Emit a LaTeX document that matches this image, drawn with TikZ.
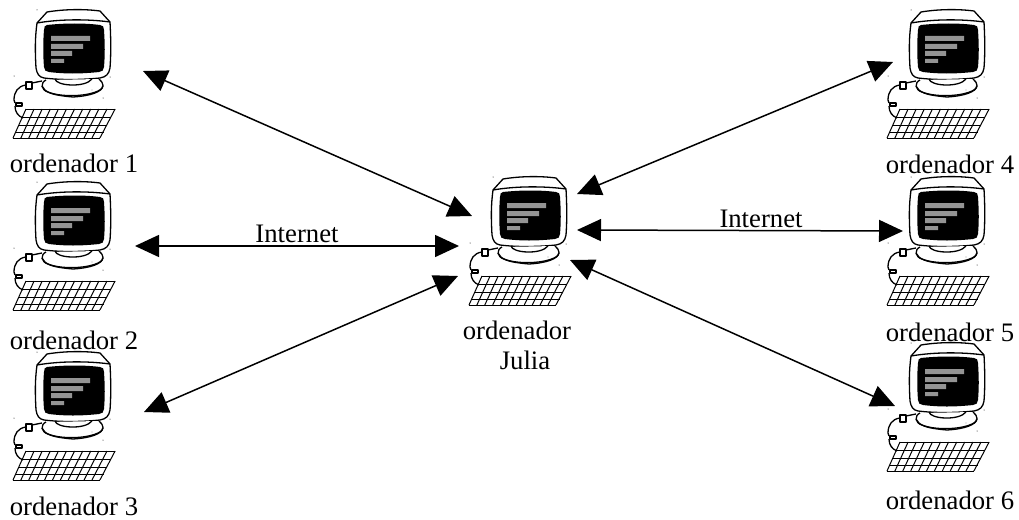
\documentclass[tikz,border=0pt]{standalone}
\usepackage{fontspec}
\setmainfont{Liberation Serif}
\usetikzlibrary{arrows.meta}
\tikzset{
  px/.style={x=1pt,y=-1pt},
  pcline/.style={draw=black,line width=1.3pt,line join=round},
  link/.style={draw=black,line width=1.5pt,{Triangle[length=24pt,width=22pt]}-{Triangle[length=24pt,width=22pt]},shorten <=0pt,shorten >=0pt},
  lbl/.style={inner sep=0pt,anchor=base,font=\fontsize{26.7}{30}\selectfont},
  pc/.pic={
    % monitor case
    \draw[pcline,fill=white] (37,23) -- (47,12) .. controls (65,9) and (85,9) .. (100,11) -- (110,22)
      .. controls (111,40) and (111,55) .. (110,68) .. controls (109,74) and (106,77) .. (100,78)
      .. controls (80,80) and (60,80) .. (44,78) .. controls (39,77) and (37,74) .. (36,68)
      .. controls (35,50) and (35,38) .. (37,23) -- cycle;
    \draw[pcline] (37,23) .. controls (60,19) and (88,19) .. (110,22);
    \fill[black] (47,25) .. controls (65,23) and (85,23) .. (100,25) .. controls (103,25) and (104,27) .. (104,30)
      .. controls (105,45) and (105,55) .. (104,67) .. controls (104,70) and (102,72) .. (99,72)
      .. controls (80,74) and (65,74) .. (49,72) .. controls (46,72) and (44,70) .. (44,67)
      .. controls (43,55) and (43,42) .. (44,30) .. controls (44,27) and (45,25) .. (47,25) -- cycle;
    \fill[black!42] (51,36) rectangle (90,41) (51,44) rectangle (83,49) (51,51) rectangle (72,56) (51,59) rectangle (64,63);
    % stand
    \draw[pcline,fill=white] (46,80) .. controls (40,83) and (41,90) .. (48,92) .. controls (60,97) and (85,97) .. (98,91)
      .. controls (105,88) and (104,83) .. (99,79);
    \draw[pcline] (42,86) .. controls (45,92) and (50,95) .. (73,97) .. controls (90,96) and (102,92) .. (103,86);
    \draw[pcline] (55,79) .. controls (56,86) and (85,88) .. (92,79);
    % cable
    \draw[pcline] (42,81) -- (32,83) (26,85) .. controls (18,86) and (14,92) .. (14,100) -- (15,103)
      (15,106) .. controls (15,112) and (18,116) .. (23,118);
    \draw[pcline,fill=white] (26,82) rectangle (32,89);
    \draw[pcline,fill=white] (16,103) rectangle (22,106);
    % keyboard
    \draw[pcline,line width=1pt] (26,109) -- (115,109) (22.5,117) -- (111,117) (18.5,125) -- (107,125) (15,132) -- (104,132) (12.5,138) -- (100,138);
    \foreach \i in {0,...,11}{
      \draw[pcline,line width=1pt] ({26+\i*8.1},109) -- ({13+\i*7.9},138);
    }
    % specks
    \fill (37,10) circle (0.5) (14,76) circle (0.5) (110,77) circle (0.5) (103,98) circle (0.5) (92,90) circle (0.4);
  }
}
\begin{document}
\begin{tikzpicture}[px]
\useasboundingbox (0,0) rectangle (1019,519);
\pic at (0,0) {pc};
\pic at (0,172) {pc};
\pic at (0,342) {pc};
\pic at (874,0) {pc};
\pic at (874,167) {pc};
\pic at (874,333) {pc};
\pic at (456,167) {pc};
\node[lbl] (l1) at (74,172) {ordenador 1};
\node[lbl] (l2) at (74,349) {ordenador 2};
\node[lbl] (l3) at (74,515) {ordenador 3};
\node[lbl] (l4) at (950,173) {ordenador 4};
\node[lbl] (l5) at (950,341) {ordenador 5};
\node[lbl] (l6) at (950,509) {ordenador 6};
\node[lbl] (lj) at (517,339) {ordenador};
\node[lbl] (lj2) at (525,369) {Julia};
\node[lbl] (in1) at (297,242) {Internet};
\node[lbl] (in2) at (761,227) {Internet};
\coordinate (a1) at (143,71);
\coordinate (a2) at (135,246);
\coordinate (a3) at (144,412);
\coordinate (b1) at (472,216);
\coordinate (b2) at (459,246);
\coordinate (b3) at (458,276);
\coordinate (c4) at (577,194);
\coordinate (c5) at (577,230);
\coordinate (c6) at (570,260);
\coordinate (d4) at (893,62);
\coordinate (d5) at (903,231);
\coordinate (d6) at (895,406);
\draw[link] (a1) -- (b1);
\draw[link] (a2) -- (b2);
\draw[link] (a3) -- (b3);
\draw[link] (c4) -- (d4);
\draw[link] (c5) -- (d5);
\draw[link] (c6) -- (d6);
\end{tikzpicture}
\end{document}
